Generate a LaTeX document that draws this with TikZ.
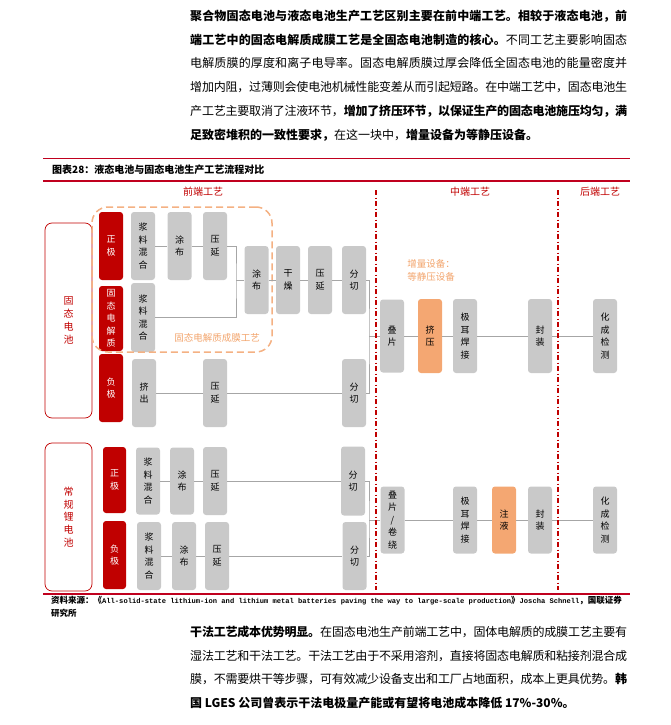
\documentclass[tikz,border=0pt]{standalone}
\usepackage{fontspec}
\setmainfont{Noto Sans CJK SC}
\setmonofont{Liberation Mono}

\definecolor{darkred}{HTML}{C00000}
\definecolor{rulered}{HTML}{C0001E}
\definecolor{boxgray}{HTML}{C9C9C9}
\definecolor{boxorange}{HTML}{F4A772}
\definecolor{dashorange}{HTML}{F4B183}
\definecolor{txtorange}{HTML}{F2A46C}
\definecolor{linegray}{HTML}{A6A6A6}

% stretchable glue between han characters, for the justified lines
\XeTeXinterchartokenstate=1
\newXeTeXintercharclass\hanclass
\newcount\hanidx
\hanidx="3000
\loop
  \XeTeXcharclass\hanidx=\hanclass
  \advance\hanidx by 1
\ifnum\hanidx<"A000 \repeat
\hanidx="FF00
\loop
  \XeTeXcharclass\hanidx=\hanclass
  \advance\hanidx by 1
\ifnum\hanidx<"FFF0 \repeat
\XeTeXinterchartoks\hanclass\hanclass={\hskip 0pt plus 2pt minus 0.5pt\relax}

\newcommand{\fullline}[1]{\hbox to 437pt{#1}}

\begin{document}
\begin{tikzpicture}[x=1pt, y=-1pt]
	\tikzset{bx/.style={rounded corners=3pt, minimum width=24pt, minimum height=68pt, inner sep=0pt, align=center, font=\fontsize{9}{12.5}\selectfont},
		gbx/.style={bx, fill=boxgray},
		rbx/.style={bx, fill=darkred, text=white},
		obx/.style={bx, fill=boxorange},
		sidebox/.style={draw=darkred, line width=0.7pt, rounded corners=7pt, minimum width=47pt, inner sep=0pt, align=center, text=darkred, font=\fontsize{10}{12.8}\selectfont},
		ln/.style={draw=linegray, line width=0.6pt},
		stage/.style={text=darkred, font=\fontsize{10}{12}\selectfont},
		para/.style={anchor=west, inner sep=0pt, font=\fontsize{12}{14}\selectfont}};

	\useasboundingbox (0,0) rectangle (670,725);

	% text above
	\node[para] (p1) at (190,16) {\fullline{\bfseries 聚合物固态电池与液态电池生产工艺区别主要在前中端工艺。相较于液态电池，前}};
	\node[para] (p2) at (190,40) {\fullline{{\bfseries 端工艺中的固态电解质成膜工艺是全固态电池制造的核心。}不同工艺主要影响固态}};
	\node[para] (p3) at (190,63) {\fullline{电解质膜的厚度和离子电导率。固态电解质膜过厚会降低全固态电池的能量密度并}};
	\node[para] (p4) at (190,87) {\fullline{增加内阻，过薄则会使电池机械性能变差从而引起短路。在中端工艺中，固态电池生}};
	\node[para] (p5) at (190,111) {\fullline{产工艺主要取消了注液环节，{\bfseries 增加了挤压环节，以保证生产的固态电池施压均匀，满}}};
	\node[para] (p6) at (190,135) {{\bfseries 足致密堆积的一致性要求，}在这一块中，{\bfseries 增量设备为等静压设备。}};

	% title and rules
	\coordinate (r1a) at (43,158);
	\coordinate (r1b) at (630,158);
	\coordinate (r2a) at (43,181);
	\coordinate (r2b) at (630,181);
	\coordinate (r3a) at (43,594);
	\coordinate (r3b) at (630,594);
	\draw[rulered, line width=0.8pt] (r1a) -- (r1b);
	\draw[rulered, line width=1.8pt] (r2a) -- (r2b);
	\draw[rulered, line width=1.8pt] (r3a) -- (r3b);
	\node[anchor=west, inner sep=0pt, font=\bfseries\fontsize{10}{12}\selectfont] (title) at (52,170) {图表28：液态电池与固态电池生产工艺流程对比};

	\node[stage] (front) at (203,192) {前端工艺};
	\node[stage] (mid) at (470,192) {中端工艺};
	\node[stage] (back) at (600,192) {后端工艺};

	% solid-state battery
	\node[sidebox, minimum height=195pt] (gt) at (68.5,320.5) {固\\态\\电\\池};
	\node[rbx] (gp) at (111,246) {正\\极};
	\node[rbx, minimum height=65pt] (ge) at (111,318.5) {固\\态\\电\\解\\质};
	\node[rbx] (gn) at (111,388) {负\\极};
	\node[gbx] (gm1) at (143,246) {浆\\料\\混\\合};
	\node[gbx] (gc1) at (179.5,246) {涂\\布};
	\node[gbx] (gr1) at (215,246) {压\\延};
	\node[gbx, minimum height=69pt] (gm2) at (143,317.5) {浆\\料\\混\\合};
	\node[gbx] (gc) at (256.5,280) {涂\\布};
	\node[gbx] (gd) at (288,280) {干\\燥};
	\node[gbx] (gr) at (320,280) {压\\延};
	\node[gbx] (gs1) at (354,280) {分\\切};
	\node[gbx] (gx) at (144,393) {挤\\出};
	\node[gbx] (gr2) at (215,393) {压\\延};
	\node[gbx] (gs2) at (354,393) {分\\切};
	\node[gbx, minimum height=73pt] (gl) at (392,336) {叠\\片};
	\node[obx, minimum height=74pt] (gpress) at (430,336) {挤\\压};
	\node[gbx, minimum height=74pt] (gw) at (465,336) {极\\耳\\焊\\接};
	\node[gbx, minimum height=74pt] (gk) at (540,336) {封\\装};
	\node[gbx, minimum height=74pt] (gf) at (605,336) {化\\成\\检\\测};

	\node[draw=dashorange, line width=1.5pt, dash pattern=on 7pt off 4pt, rounded corners=16pt, minimum width=180pt, minimum height=145pt, inner sep=0pt] (film) at (182,279.5) {};
	\node[text=txtorange, font=\fontsize{9.5}{12}\selectfont] (filmlbl) at (217,338) {固态电解质成膜工艺};
	\node[text=txtorange, align=center, font=\fontsize{9.5}{13}\selectfont] (extra) at (431,270.5) {增量设备：\\等静压设备};

	% conventional lithium battery
	\node[sidebox, minimum height=148pt] (lt) at (68.5,517) {常\\规\\锂\\电\\池};
	\node[rbx, minimum width=23pt, minimum height=66pt] (lp) at (114.5,480) {正\\极};
	\node[rbx, minimum width=23pt] (ln) at (114.5,555) {负\\极};
	\node[gbx, minimum height=67pt] (lm1) at (148,481) {浆\\料\\混\\合};
	\node[gbx, minimum height=67pt] (lc1) at (182,481) {涂\\布};
	\node[gbx] (lr1) at (215,481) {压\\延};
	\node[gbx, minimum height=69pt] (ls1) at (353,481) {分\\切};
	\node[gbx] (lm2) at (149,556) {浆\\料\\混\\合};
	\node[gbx] (lc2) at (184,556) {涂\\布};
	\node[gbx] (lr2) at (217,556) {压\\延};
	\node[gbx] (ls2) at (354.5,556) {分\\切};
	\node[gbx, minimum height=67pt] (ll) at (392.5,520) {叠\\片\\/\\卷\\绕};
	\node[gbx, minimum height=67pt] (lw) at (465,520) {极\\耳\\焊\\接};
	\node[obx, minimum height=67pt] (li) at (504,520) {注\\液};
	\node[gbx, minimum height=67pt] (lk) at (540,520) {封\\装};
	\node[gbx, minimum height=67pt] (lf) at (605,520) {化\\成\\检\\测};

	\coordinate (j1) at (236,280);
	\coordinate (j2) at (369,336);
	\coordinate (j3) at (369,520);

	\draw[ln] (gm1) to (gc1);
	\draw[ln] (gc1) to (gr1);
	\draw[ln] (gr1.east) -| (j1) |- (gm2.east);
	\draw[ln] (j1) to (gc);
	\draw[ln] (gc) to (gd);
	\draw[ln] (gd) to (gr);
	\draw[ln] (gr) to (gs1);
	\draw[ln] (gx) to (gr2);
	\draw[ln] (gr2) to (gs2);
	\draw[ln] (gs1.east) -| (j2) |- (gs2.east);
	\draw[ln] (j2) to (gl);
	\draw[ln] (gl) to (gpress);
	\draw[ln] (gpress) to (gw);
	\draw[ln] (gw) to (gk);
	\draw[ln] (gk) to (gf);

	\draw[ln] (lm1) to (lc1);
	\draw[ln] (lc1) to (lr1);
	\draw[ln] (lr1) to (ls1);
	\draw[ln] (lm2) to (lc2);
	\draw[ln] (lc2) to (lr2);
	\draw[ln] (lr2) to (ls2);
	\draw[ln] (ls1.east) -| (j3) |- (ls2.east);
	\draw[ln] (j3) to (ll);
	\draw[ln] (ll) to (lw);
	\draw[ln] (lw) to (li);
	\draw[ln] (li) to (lk);
	\draw[ln] (lk) to (lf);

	% stage borders
	\coordinate (d1t) at (376,190);
	\coordinate (d1b) at (376,590);
	\coordinate (d2t) at (558,190);
	\coordinate (d2b) at (558,590);
	\draw[darkred, line width=2pt, dash pattern=on 5pt off 2.5pt on 1pt off 2.5pt] (d1t) -- (d1b);
	\draw[darkred, line width=2pt, dash pattern=on 5pt off 2.5pt on 1pt off 2.5pt] (d2t) -- (d2b);

	% source
	\node[anchor=west, inner sep=0pt, font=\bfseries\fontsize{8.5}{10}\selectfont] (src) at (51,601) {资料来源：《{\ttfamily\fontsize{7.1}{10}\selectfont All-solid-state lithium-ion and lithium metal batteries paving the way to large-scale production}》{\ttfamily\fontsize{7.1}{10}\selectfont Joscha Schnell}，国联证券};
	\node[anchor=west, inner sep=0pt, font=\bfseries\fontsize{8.5}{10}\selectfont] (src2) at (51,613) {研究所};

	% text below
	\node[para] (q1) at (190,632) {\fullline{{\bfseries 干法工艺成本优势明显。}在固态电池生产前端工艺中，固体电解质的成膜工艺主要有}};
	\node[para] (q2) at (190,656) {\fullline{湿法工艺和干法工艺。干法工艺由于不采用溶剂，直接将固态电解质和粘接剂混合成}};
	\node[para] (q3) at (190,679) {\fullline{膜，不需要烘干等步骤，可有效减少设备支出和工厂占地面积，成本上更具优势。{\bfseries 韩}}};
	\node[para] (q4) at (190,703) {\bfseries 国 LGES 公司曾表示干法电极量产能或有望将电池成本降低 17\%-30\%。};

\end{tikzpicture}
\end{document}
